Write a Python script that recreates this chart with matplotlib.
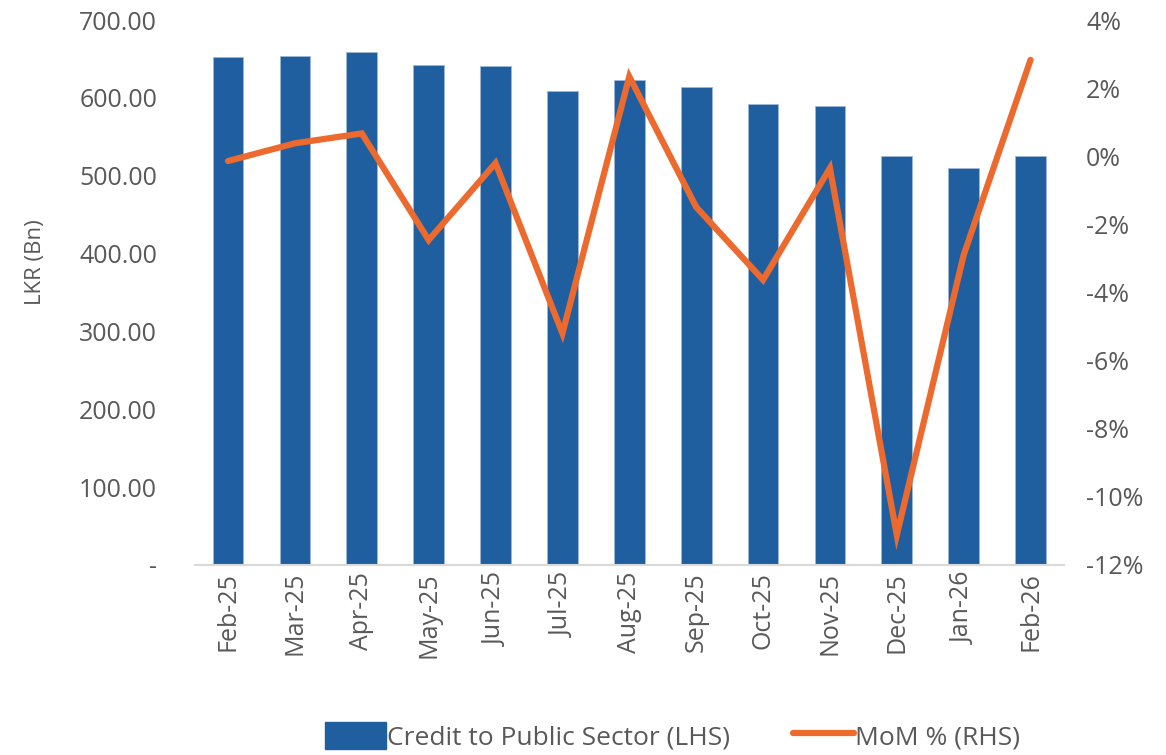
import matplotlib

matplotlib.use("Agg")
import matplotlib.pyplot as plt
from matplotlib.lines import Line2D
from matplotlib.patches import FancyBboxPatch
from matplotlib.ticker import FuncFormatter

months = ["Feb-25", "Mar-25", "Apr-25", "May-25", "Jun-25", "Jul-25", "Aug-25",
          "Sep-25", "Oct-25", "Nov-25", "Dec-25", "Jan-26", "Feb-26"]
credit_bn = [652.0, 654.0, 658.5, 642.6, 641.0, 608.4, 622.5,
             613.5, 591.7, 589.5, 524.9, 510.3, 524.9]
mom_pct = [-0.14, 0.38, 0.67, -2.46, -0.20, -5.20, 2.34,
           -1.49, -3.63, -0.35, -11.12, -2.90, 2.83]

BAR_COLOR = "#1F5F9F"
LINE_COLOR = "#ED6A2F"
TEXT_COLOR = "#595959"

plt.rcParams["font.family"] = ["Open Sans", "DejaVu Sans"]

fig = plt.figure(figsize=(11.66, 7.55), dpi=100)
ax = fig.add_axes([0.1669, 0.2517, 0.7456, 0.7218])
ax2 = ax.twinx()

x = range(len(months))
ax.bar(x, credit_bn, width=0.46, color=BAR_COLOR, edgecolor="#9DB8D6", linewidth=0.6)
ax2.plot(x, mom_pct, color=LINE_COLOR, lw=4.5, solid_joinstyle="miter", solid_capstyle="round")

ax.set_xlim(-0.5, len(months) - 0.5)
ax.set_ylim(0, 700)
ax.set_yticks(range(0, 701, 100))
ax.yaxis.set_major_formatter(FuncFormatter(lambda v, p: "-" if v == 0 else f"{v:.2f}"))
ax2.set_ylim(-12, 4)
ax2.set_yticks(range(-12, 5, 2))
ax2.yaxis.set_major_formatter(FuncFormatter(lambda v, p: f"{v:.0f}%"))

ax.set_xticks(list(x))
ax.set_xticklabels(months, rotation=90)
ax.set_ylabel("LKR (Bn)", fontsize=16, color=TEXT_COLOR)
ax.yaxis.set_label_coords(-0.171, 0.556)

for a in (ax, ax2):
    for s in a.spines.values():
        s.set_visible(False)
    a.tick_params(length=0, labelsize=18, colors=TEXT_COLOR)
ax.spines["bottom"].set_visible(True)
ax.spines["bottom"].set_color("#D9D9D9")
ax.spines["bottom"].set_linewidth(1.5)
ax.tick_params(axis="y", pad=27)
ax.tick_params(axis="x", pad=5)
ax2.tick_params(axis="y", pad=16)

handles = [
    FancyBboxPatch((0, 0), 1, 1, boxstyle="round,pad=0,rounding_size=0.2", color=BAR_COLOR),
    Line2D([0], [0], color=LINE_COLOR, lw=4.5, solid_capstyle="round"),
]
fig.legend(handles, ["Credit to Public Sector (LHS)", "MoM % (RHS)"],
           loc="center", bbox_to_anchor=(0.577, 0.025), ncol=2, frameon=False,
           fontsize=19, labelcolor=TEXT_COLOR, handlelength=2.3, handleheight=1.2,
           handletextpad=0.05, columnspacing=2.4)

fig.savefig("out.png")
